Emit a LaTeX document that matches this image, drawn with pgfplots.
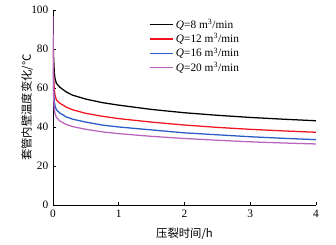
\documentclass[border=0pt]{standalone}
\usepackage{fontspec}
\setmainfont{Liberation Serif}
\newfontfamily\cjk{Noto Sans CJK SC}
\usepackage{pgfplots}
\pgfplotsset{compat=1.18}
\definecolor{cred}{RGB}{240,20,30}
\definecolor{cblue}{RGB}{40,90,200}
\definecolor{cpurp}{RGB}{185,100,190}
\begin{document}
\begin{tikzpicture}
\begin{axis}[name=ax,
  scale only axis, width=197.25pt, height=146.25pt,
  xmin=0, xmax=4, ymin=0, ymax=100,
  axis x line=bottom, axis y line=left,
  axis line style={-, line width=0.6pt},
  tick align=inside, major tick length=2.5pt,
  tick style={line width=0.6pt, black},
  xtick={0,1,2,3,4}, ytick={0,20,40,60,80,100},
  /pgf/number format/assume math mode=true,
  tick label style={font=\fontsize{8.5}{10}\selectfont},
  xlabel={\cjk 压裂时间/h}, ylabel={\cjk 套管内壁温度变化/℃},
  label style={font=\fontsize{8.5}{10}\selectfont},
  xlabel style={yshift=-1pt},
  ylabel style={yshift=-8pt},
  legend style={draw=none, fill=none, at={(rel axis cs:0.36,0.975)}, anchor=north west,
    font=\fontsize{8.5}{10}\selectfont, row sep=-1.5pt, inner sep=1pt},
  legend cell align=left,
  every axis plot/.append style={line width=0.95pt, no markers},
]
\addplot[black] coordinates {(0,86) (0.01,75) (0.02,68) (0.03,65) (0.05,62.5) (0.1,60.5) (0.2,58) (0.3,56.3) (0.5,54.3) (0.75,52.5) (1,51.2) (1.5,49) (2,47.3) (2.5,46) (3,44.9) (3.5,44) (4,43.2)};
\addlegendentry{\textit{Q}=8 m\textsuperscript{3}/min}
\addplot[cred] coordinates {(0,80) (0.01,65) (0.02,59) (0.03,56.5) (0.05,54) (0.1,52.3) (0.2,50.2) (0.3,48.8) (0.5,47) (0.75,45.5) (1,44.3) (1.5,42.5) (2,41) (2.5,39.8) (3,38.8) (3.5,38) (4,37.3)};
\addlegendentry{\textit{Q}=12 m\textsuperscript{3}/min}
\addplot[cblue] coordinates {(0,72) (0.01,58) (0.02,53) (0.03,51) (0.05,49) (0.1,47.2) (0.2,45.2) (0.3,44) (0.5,42.5) (0.75,41) (1,40) (1.5,38.5) (2,37) (2.5,36) (3,35) (3.5,34.2) (4,33.5)};
\addlegendentry{\textit{Q}=16 m\textsuperscript{3}/min}
\addplot[cpurp] coordinates {(0,97) (0.005,70) (0.01,55) (0.02,49) (0.03,47) (0.05,45) (0.1,43.2) (0.2,41.3) (0.3,40.2) (0.5,38.8) (0.75,37.5) (1,36.6) (1.5,35.2) (2,34.1) (2.5,33.2) (3,32.4) (3.5,31.8) (4,31.3)};
\addlegendentry{\textit{Q}=20 m\textsuperscript{3}/min}
\end{axis}
\pgfresetboundingbox
\path (ax.south west) ++(-39.75pt,-30pt) rectangle ++(252pt,183.75pt);
\end{tikzpicture}
\end{document}
